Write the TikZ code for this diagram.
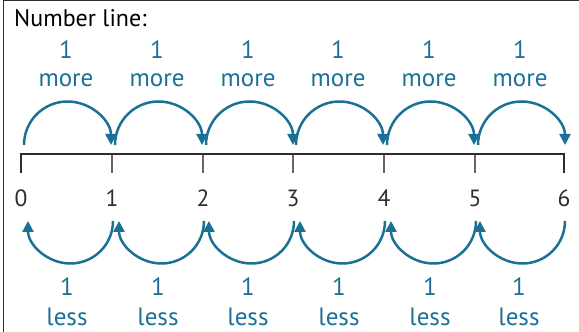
\documentclass[tikz,border=0pt]{standalone}
\usepackage{fontspec}
\setmainfont{PT Sans}
\usetikzlibrary{arrows.meta}
\definecolor{arcblue}{RGB}{27,112,150}
\definecolor{numgray}{RGB}{45,45,45}
\tikzset{
  jump/.style={draw=arcblue, line width=2.5pt, -{Triangle[width=11pt,length=11pt]}},
  lbl/.style={text=arcblue, font=\fontsize{25}{27}\selectfont, inner sep=0pt},
  num/.style={text=numgray, font=\fontsize{23.5}{25}\selectfont, inner sep=0pt},
  tickmark/.style={draw=gray!80!black, line width=1.3pt},
  endtick/.style={draw=numgray, line width=2.4pt}
}
\begin{document}
\begin{tikzpicture}[x=1pt,y=1pt]
\useasboundingbox (0,0) rectangle (579,332);
% frame (top and left visible)
\draw[line width=1.5pt, numgray] (3.5,0) -- (3.5,331.3) -- (579,331.3);
\node[anchor=west, text=black, font=\fontsize{24}{26}\selectfont, inner sep=0pt] (title) at (14,314) {Number line:};
% tick coordinates
\foreach \i/\x in {0/21,1/112,2/203,3/293,4/384,5/475,6/564}{
  \coordinate (t\i) at (\x,177);
  \coordinate (b\i) at (\x,159);
  \node[num] (n\i) at (\x,134) {\i};
}
\foreach \i in {1,...,5}{ \draw[tickmark] (t\i) -- (b\i); }
\draw[endtick] (b0) -- ([yshift=1.2pt]t0) -- ([yshift=1.2pt]t6) -- (b6);
% upper arcs and labels
\foreach \i/\x in {0/21,1/112,2/203,3/293,4/384,5/475}{
  \coordinate (us\i) at (\x+3,187);
  \draw[jump] (us\i) arc[start angle=180, end angle=0, radius=43.5];
  \node[lbl] (one\i) at (\x+45,282) {1};
  \node[lbl] (more\i) at (\x+45,252) {more};
}
% lower arcs and labels
\foreach \i/\x in {1/112,2/203,3/293,4/384,5/475,6/564}{
  \coordinate (ls\i) at (\x+1,111);
  \draw[jump] (ls\i) arc[start angle=0, end angle=-180, radius=42.5];
  \node[lbl] (lone\i) at (\x-45,45) {1};
  \node[lbl] (less\i) at (\x-45,15) {less};
}
\end{tikzpicture}
\end{document}
